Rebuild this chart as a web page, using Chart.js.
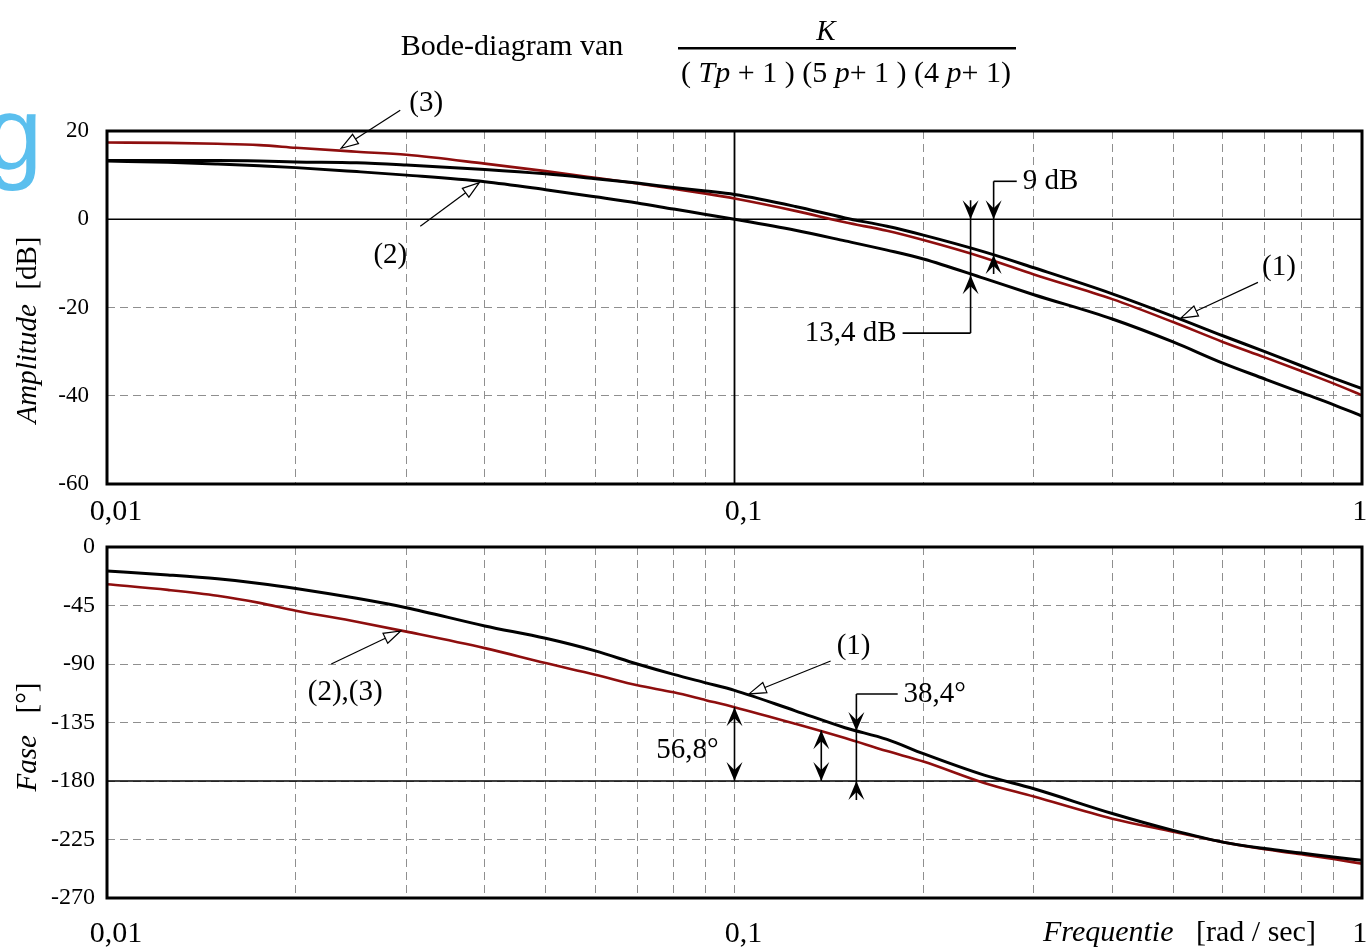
<!DOCTYPE html>
<html><head><meta charset="utf-8">
<script src="https://cdn.jsdelivr.net/npm/chart.js@4.4.1/dist/chart.umd.min.js"></script>
<style>
html,body{margin:0;padding:0;background:#fff;}
#wrap{position:relative;width:1372px;height:952px;overflow:hidden;background:#fff;}
canvas{position:absolute;left:0;}
#c1{top:0;width:1372px;height:530px;}
#c2{top:530px;width:1372px;height:422px;}
</style></head><body>
<div id="wrap"><canvas id="c1" width="1372" height="530"></canvas><canvas id="c2" width="1372" height="422"></canvas></div>
<script>
// ---------- DATA ----------
const freqs   = [0.01,0.0125,0.015,0.0175,0.02,0.025,0.03,0.04,0.05,0.06,0.07,0.08,0.09,0.1,0.125,0.15,0.175,0.2,0.25,0.3,0.4,0.5,0.6,0.7,0.8,0.9,1];
const amp1    = [13.3,13.3,13.3,13.2,13.0,12.8,12.3,11.3,10.3,9.2,8.2,7.2,6.4,5.6,2.9,0.3,-1.6,-3.6,-7.4,-11.0,-16.9,-22.0,-26.4,-30.0,-33.2,-36.0,-38.4];
const amp2    = [13.2,12.9,12.5,12.1,11.7,10.8,10.0,8.5,6.7,5.1,3.7,2.3,1.1,0.0,-2.5,-4.9,-7.0,-9.0,-13.4,-17.1,-22.6,-27.8,-32.6,-36.2,-39.3,-42.0,-44.6];
const amp3    = [17.4,17.3,17.1,16.8,16.2,15.3,14.6,12.6,10.9,9.4,8.1,6.9,5.8,4.7,1.9,-0.7,-2.6,-4.7,-8.7,-12.5,-18.1,-23.3,-27.8,-31.3,-34.4,-37.2,-39.9];
const phase1  = [-18.4,-21.5,-24.5,-28.0,-31.9,-39.5,-46.7,-60.7,-70.2,-79.9,-90.0,-98.0,-104.5,-110.3,-126.0,-139.0,-148.0,-159.0,-175.5,-186.0,-205.0,-218.0,-227.0,-232.0,-235.4,-238.5,-241.0];
const phase23 = [-28.6,-33.0,-37.5,-43.0,-49.0,-57.5,-65.1,-77.8,-89.3,-98.2,-106.4,-111.8,-117.8,-123.2,-136.0,-147.0,-157.0,-165.0,-181.5,-192.0,-209.0,-219.0,-227.0,-232.5,-236.4,-240.0,-243.6];

const gridFreqs   = [0.01,0.02,0.03,0.04,0.05,0.06,0.07,0.08,0.09,0.1,0.2,0.3,0.4,0.5,0.6,0.7,0.8,0.9,1];
const xLabelVals  = [0.01,0.1,1];
const xLabelTexts = ['0,01','0,1','1   '];
const ampTicks    = [20,0,-20,-40,-60];
const phaseTicks  = [0,-45,-90,-135,-180,-225,-270];
const ampRef      = 0;      // solid 0 dB line
const freqRef     = 0.1;    // solid vertical line in amplitude plot
const phaseRef    = -180;   // solid -180 deg line

// annotation labels with leader arrows: [text, textF, textV, startF, startV, tipF, tipV]
const ampLeaders = [
  ['(3)', 0.03227, 26.3, 0.02933, 24.7, 0.02362, 16.1],
  ['(2)', 0.02828, -8.2, 0.03157, -1.6, 0.0392, 8.3],
  ['(1)', 0.7373, -10.9, 0.6826, -14.3, 0.5143, -22.4]
];
const phaseLeaders = [
  ['(2),(3)', 0.02397, -111.5, 0.02277, -90.0, 0.02938, -64.6],
  ['(1)', 0.1548, -76.2, 0.1423, -87.7, 0.1055, -113.0]
];
// dimension arrows: [freq, topV, topInward, bottomV, bottomInward, elbowV, elbowF, label, labelF, align, labelV]
const ampDims = [
  [0.2588, 0, true, -8.1, true, 8.6, 0.2817, '9 dB', 0.2879, 'left', null],
  [0.2378, 0, true, -12.7, true, -25.8, 0.1853, '13,4 dB', 0.1813, 'right', null]
];
const phaseDims = [
  [0.1, -123.2, false, -180, false, null, null, '56,8°', 0.0943, 'right', -156.2],
  [0.1375, -141.0, false, -180, false, null, null, '', null, null, null],
  [0.1564, -141.6, true, -180, true, -113.1, 0.182, '38,4°', 0.186, 'left', null]
];

// ---------- helpers ----------
const SERIF = '"Liberation Serif", "Times New Roman", serif';
const pts = (xs, ys) => xs.map((x, i) => ({x: x, y: ys[i]}));
function fixFit(w, h) {
  return function (s) {
    if (w != null) s.width = w;
    if (h != null) s.height = h;
    s.paddingLeft = s.paddingRight = s.paddingTop = s.paddingBottom = 0;
  };
}
function xLabel(v) {
  const i = xLabelVals.findIndex(t => Math.abs(t - v) < 1e-9);
  return i >= 0 ? xLabelTexts[i] : '';
}
function drawRuns(ctx, parts, x, y, align, size) {
  const fonts = parts.map(p => (p[1] ? 'italic ' : '') + size + 'px ' + SERIF);
  const ws = parts.map((p, i) => { ctx.font = fonts[i]; return ctx.measureText(p[0]).width; });
  const total = ws.reduce((a, b) => a + b, 0);
  let cx = align === 'center' ? x - total / 2 : (align === 'right' ? x - total : x);
  ctx.textAlign = 'left';
  parts.forEach((p, i) => { ctx.font = fonts[i]; ctx.fillText(p[0], cx, y); cx += ws[i]; });
}
function barb(ctx, x, y, dir) { // dir 1: points down, -1: points up
  ctx.beginPath();
  ctx.moveTo(x, y);
  ctx.lineTo(x - 8, y - dir * 19);
  ctx.lineTo(x, y - dir * 11);
  ctx.lineTo(x + 8, y - dir * 19);
  ctx.closePath();
  ctx.fill();
}
function openArrow(ctx, x0, y0, x1, y1) {
  const ang = Math.atan2(y1 - y0, x1 - x0);
  const L = 17, W = 5.5;
  const bx = x1 - L * Math.cos(ang), by = y1 - L * Math.sin(ang);
  ctx.lineWidth = 1.2;
  ctx.beginPath(); ctx.moveTo(x0, y0); ctx.lineTo(bx, by); ctx.stroke();
  ctx.beginPath();
  ctx.moveTo(x1, y1);
  ctx.lineTo(bx - W * Math.sin(ang), by + W * Math.cos(ang));
  ctx.lineTo(bx + W * Math.sin(ang), by - W * Math.cos(ang));
  ctx.closePath();
  ctx.fillStyle = '#fff'; ctx.fill(); ctx.stroke();
  ctx.fillStyle = '#000';
}
function drawLeaders(chart, list) {
  const ctx = chart.ctx, X = chart.scales.x, Y = chart.scales.y;
  ctx.save();
  ctx.strokeStyle = '#000'; ctx.fillStyle = '#000';
  list.forEach(l => {
    openArrow(ctx, X.getPixelForValue(l[3]), Y.getPixelForValue(l[4]), X.getPixelForValue(l[5]), Y.getPixelForValue(l[6]));
    ctx.fillStyle = '#000';
    ctx.textBaseline = 'middle';
    drawRuns(ctx, [[l[0], false]], X.getPixelForValue(l[1]), Y.getPixelForValue(l[2]), 'center', 29);
  });
  ctx.restore();
}
function drawDims(chart, list) {
  const ctx = chart.ctx, X = chart.scales.x, Y = chart.scales.y;
  ctx.save();
  ctx.strokeStyle = '#000'; ctx.fillStyle = '#000'; ctx.lineWidth = 1.6;
  list.forEach(d => {
    const x = X.getPixelForValue(d[0]);
    const yt = Y.getPixelForValue(d[1]), yb = Y.getPixelForValue(d[3]);
    let y1 = yt - (d[2] ? 19 : 0), y2 = yb + (d[4] ? 19 : 0);
    let ye = null;
    if (d[5] != null) { ye = Y.getPixelForValue(d[5]); y1 = Math.min(y1, ye); y2 = Math.max(y2, ye); }
    ctx.beginPath(); ctx.moveTo(x, y1); ctx.lineTo(x, y2); ctx.stroke();
    barb(ctx, x, yt, d[2] ? 1 : -1);
    barb(ctx, x, yb, d[4] ? -1 : 1);
    if (ye != null) {
      const xe = X.getPixelForValue(d[6]);
      ctx.beginPath(); ctx.moveTo(x, ye); ctx.lineTo(xe, ye); ctx.stroke();
    }
    if (d[7]) {
      const lv = d[10] != null ? d[10] : d[5];
      ctx.textBaseline = 'middle';
      drawRuns(ctx, [[d[7], false]], X.getPixelForValue(d[8]), Y.getPixelForValue(lv), d[9], 29);
    }
  });
  ctx.restore();
}
function frame(chart) {
  const a = chart.chartArea, ctx = chart.ctx;
  ctx.save(); ctx.strokeStyle = '#000'; ctx.lineWidth = 3;
  ctx.strokeRect(a.left, a.top, a.right - a.left, a.bottom - a.top);
  ctx.restore();
}

const topPlugin = {
  id: 'topDeco',
  afterDraw(chart) {
    const ctx = chart.ctx;
    frame(chart);
    ctx.save();
    ctx.fillStyle = '#000';
    ctx.textBaseline = 'alphabetic';
    drawRuns(ctx, [['Bode-diagram van', false]], 512, 55, 'center', 30);
    drawRuns(ctx, [['K', true]], 826, 40, 'center', 29);
    ctx.fillRect(678, 47, 338, 2.5);
    drawRuns(ctx, [['( ', false], ['Tp', true], [' + 1 ) (5 ', false], ['p', true], ['+ 1 ) (4 ', false], ['p', true], ['+ 1)', false]], 846, 82, 'center', 30);
    // blue watermark glyph
    ctx.fillStyle = '#5bbfee';
    ctx.font = '103px "Liberation Sans", Arial, sans-serif';
    ctx.textAlign = 'left';
    ctx.fillText('g', -15, 169);
    // y-axis title
    ctx.fillStyle = '#000';
    ctx.translate(36, 330); ctx.rotate(-Math.PI / 2);
    drawRuns(ctx, [['Amplitude', true], ['  [dB]', false]], 0, 0, 'center', 29);
    ctx.restore();
    drawLeaders(chart, ampLeaders);
    drawDims(chart, ampDims);
  }
};
const botPlugin = {
  id: 'botDeco',
  afterDraw(chart) {
    const ctx = chart.ctx;
    frame(chart);
    ctx.save();
    ctx.fillStyle = '#000';
    ctx.textBaseline = 'alphabetic';
    drawRuns(ctx, [['Frequentie', true], ['   [rad / sec]', false]], 1043, 411, 'left', 30);
    ctx.translate(36, 207); ctx.rotate(-Math.PI / 2);
    drawRuns(ctx, [['Fase', true], ['   [°]', false]], 0, 0, 'center', 29);
    ctx.restore();
    drawLeaders(chart, phaseLeaders);
    drawDims(chart, phaseDims);
  }
};

function xScale(h, pad) {
  return {
    type: 'logarithmic', min: 0.01, max: 1,
    afterBuildTicks: s => { s.ticks = gridFreqs.map(v => ({value: v})); },
    afterFit: fixFit(null, h),
    ticks: { autoSkip: false, maxRotation: 0, minRotation: 0, padding: pad, labelOffset: 9, color: '#000',
             font: {family: SERIF, size: 30}, callback: v => xLabel(v) },
    grid: { color: '#8f8f8f', lineWidth: 1, drawTicks: false },
    border: { display: false, dash: [8, 5] }
  };
}
function yScale(min, max, ticks, size, pad) {
  return {
    min: min, max: max,
    afterBuildTicks: s => { s.ticks = ticks.map(v => ({value: v})); },
    afterFit: fixFit(107, null),
    ticks: { padding: pad, color: '#000', font: {family: SERIF, size: size}, callback: v => String(v) },
    grid: { color: '#8f8f8f', lineWidth: 1, drawTicks: false },
    border: { display: false, dash: [8, 5] }
  };
}
const common = {
  responsive: false, animation: false, devicePixelRatio: 1,
  plugins: { legend: {display: false}, tooltip: {enabled: false}, title: {display: false} },
  elements: { point: {radius: 0}, line: {cubicInterpolationMode: 'monotone', borderCapStyle: 'round'} }
};
const RED = '#8e0e0e';

new Chart(document.getElementById('c1'), {
  type: 'line',
  data: { datasets: [
    {label: '(1)', data: pts(freqs, amp1), borderColor: '#000', borderWidth: 3, order: 1},
    {label: '(2)', data: pts(freqs, amp2), borderColor: '#000', borderWidth: 3, order: 2},
    {label: '(3)', data: pts(freqs, amp3), borderColor: RED, borderWidth: 2.6, order: 3},
    {label: '0 dB', data: [{x: 0.01, y: ampRef}, {x: 1, y: ampRef}], borderColor: '#000', borderWidth: 1.3, order: 10},
    {label: '0.1', data: [{x: freqRef, y: 20}, {x: freqRef, y: -60}], borderColor: '#000', borderWidth: 1.8, order: 11}
  ]},
  options: Object.assign({}, common, {
    layout: { padding: {left: 0, top: 131, right: 10, bottom: 0} },
    scales: { x: xScale(46, 10), y: yScale(-60, 20, ampTicks, 23, 18) }
  }),
  plugins: [topPlugin]
});

new Chart(document.getElementById('c2'), {
  type: 'line',
  data: { datasets: [
    {label: '(1)', data: pts(freqs, phase1), borderColor: '#000', borderWidth: 3, order: 1},
    {label: '(2),(3)', data: pts(freqs, phase23), borderColor: RED, borderWidth: 2.6, order: 2},
    {label: '-180', data: [{x: 0.01, y: phaseRef}, {x: 1, y: phaseRef}], borderColor: '#000', borderWidth: 1.3, order: 10}
  ]},
  options: Object.assign({}, common, {
    layout: { padding: {left: 0, top: 17, right: 10, bottom: 0} },
    scales: { x: xScale(54, 18), y: yScale(-270, 0, phaseTicks, 24, 12) }
  }),
  plugins: [botPlugin]
});
</script>
</body></html>
